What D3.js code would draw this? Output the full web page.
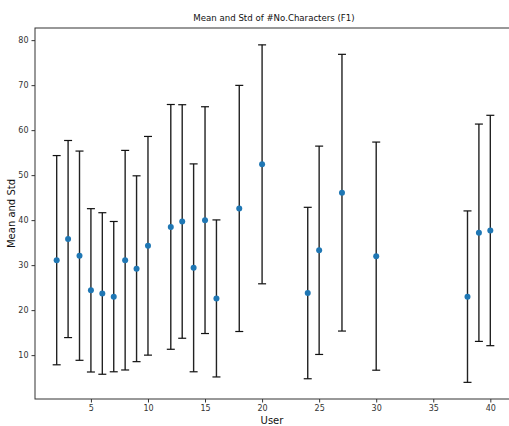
<!DOCTYPE html>
<html>
<head>
<meta charset="utf-8">
<script src="https://cdn.jsdelivr.net/npm/d3@7"></script>
<style>
  body { margin: 0; background: #fff; }
  svg { font-family: 'DejaVu Sans', sans-serif; }
</style>
</head>
<body>
<svg id="chart" width="509" height="426"></svg>
<script>
const users = [2, 3, 4, 5, 6, 7, 8, 9, 10, 12, 13, 14, 15, 16, 18, 20, 24, 25, 27, 30, 38, 39, 40]
const means = [31.1, 35.8, 32.1, 24.4, 23.7, 23.0, 31.1, 29.2, 34.3, 38.5, 39.7, 29.4, 40.0, 22.6, 42.6, 52.4, 23.8, 33.3, 46.1, 32.0, 23.0, 37.2, 37.7]
const stds = [23.25, 21.9, 23.25, 18.15, 17.95, 16.7, 24.4, 20.65, 24.3, 27.2, 25.95, 23.1, 25.2, 17.45, 27.35, 26.55, 19.05, 23.15, 30.75, 25.35, 19.05, 24.15, 25.6]
const xTicks = [5, 10, 15, 20, 25, 30, 35, 40]
const yTicks = [10, 20, 30, 40, 50, 60, 70, 80]

const data = users.map((u, i) => ({ user: u, mean: means[i], std: stds[i] }))

const svg = d3.select('#chart')
const m = { left: 35, right: 512, top: 28, bottom: 399 }

const x = d3.scaleLinear().domain([0.1, 41.9]).range([m.left, m.right])
const y = d3.scaleLinear().domain([0.25, 82.7]).range([m.bottom, m.top])

// frame
svg.append('rect')
  .attr('x', m.left).attr('y', m.top)
  .attr('width', m.right - m.left).attr('height', m.bottom - m.top)
  .attr('fill', 'none').attr('stroke', '#333').attr('stroke-width', 1)

const xAxis = svg.append('g')
  .attr('transform', `translate(0,${m.bottom})`)
  .call(d3.axisBottom(x).tickValues(xTicks).tickSize(3.5).tickPadding(3))
const yAxis = svg.append('g')
  .attr('transform', `translate(${m.left},0)`)
  .call(d3.axisLeft(y).tickValues(yTicks).tickSize(3.5).tickPadding(3))

;[xAxis, yAxis].forEach((g) => {
  g.select('.domain').remove()
  g.selectAll('.tick line').attr('stroke', '#333')
  g.selectAll('.tick text')
    .attr('fill', '#333')
    .style('font-family', "'DejaVu Sans', sans-serif")
    .style('font-size', '8px')
})

// error bars
const bars = svg.append('g')
bars.selectAll('.err')
  .data(data)
  .enter()
  .append('line')
  .attr('class', 'err')
  .attr('x1', (d) => x(d.user))
  .attr('x2', (d) => x(d.user))
  .attr('y1', (d) => y(d.mean - d.std))
  .attr('y2', (d) => y(d.mean + d.std))
  .attr('stroke', '#222')
  .attr('stroke-width', 1.4)

const caps = data.flatMap((d) => [d.mean - d.std, d.mean + d.std].map((v) => ({ user: d.user, v })))
bars.selectAll('.cap')
  .data(caps)
  .enter()
  .append('line')
  .attr('class', 'cap')
  .attr('x1', (d) => x(d.user) - 4)
  .attr('x2', (d) => x(d.user) + 4)
  .attr('y1', (d) => y(d.v))
  .attr('y2', (d) => y(d.v))
  .attr('stroke', '#111')
  .attr('stroke-width', 1.2)

svg.append('g')
  .selectAll('circle')
  .data(data)
  .enter()
  .append('circle')
  .attr('cx', (d) => x(d.user))
  .attr('cy', (d) => y(d.mean))
  .attr('r', 3)
  .attr('fill', '#1f77b4')

svg.append('text')
  .attr('x', 274).attr('y', 21)
  .attr('text-anchor', 'middle')
  .style('font-size', '8.6px')
  .attr('fill', '#111')
  .text('Mean and Std of #No.Characters (F1)')

svg.append('text')
  .attr('x', 272).attr('y', 424)
  .attr('text-anchor', 'middle')
  .style('font-size', '10px')
  .attr('fill', '#111')
  .text('User')

svg.append('text')
  .attr('transform', `translate(15,${(m.top + m.bottom) / 2}) rotate(-90)`)
  .attr('text-anchor', 'middle')
  .style('font-size', '10px')
  .attr('fill', '#111')
  .text('Mean and Std')
</script>
</body>
</html>
